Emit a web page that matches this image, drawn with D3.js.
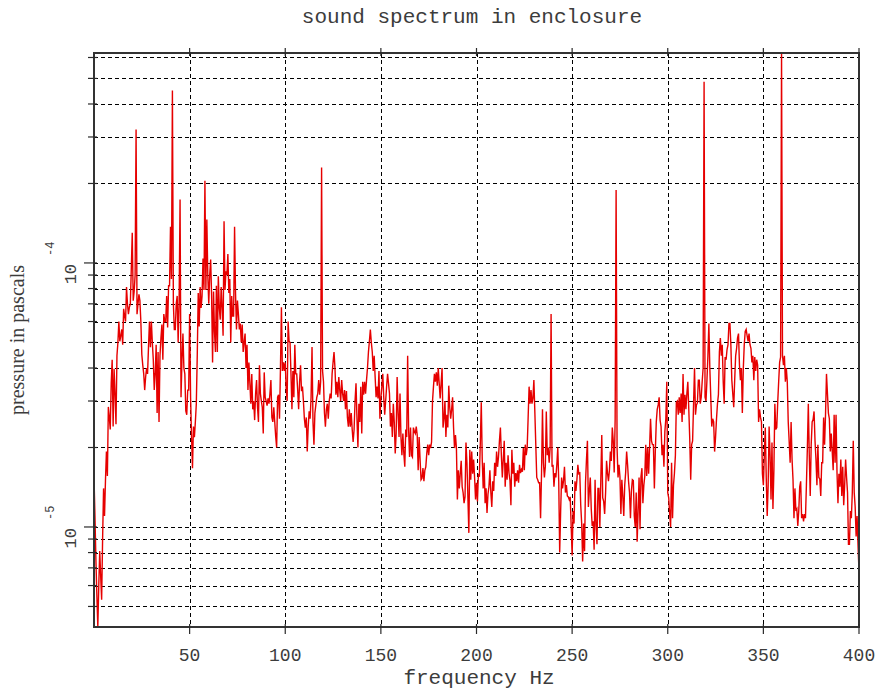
<!DOCTYPE html>
<html>
<head>
<meta charset="utf-8">
<script src="https://cdn.jsdelivr.net/npm/d3@7/dist/d3.min.js"></script>
<style>
  body { margin: 0; background: #fff; }
  svg { display: block; }
</style>
</head>
<body>
<svg id="chart" width="881" height="691"></svg>
<script>
// Labels
const titleText = "sound spectrum in enclosure";
const xLabelText = "frequency Hz";
const yLabelText = "pressure in pascals";

// Axis ticks
const xTickValues = [50, 100, 150, 200, 250, 300, 350, 400];
const yLabelPowers = [-5, -4];

// Spectrum: one value every 0.5 Hz from 0 to 400 Hz, in units of 1e-5 Pa
const freqStepHz = 0.5;
const pressureUnit = 1e-5;
const pressure = [
  /*   0 */ 1.55, 1.1, 0.75, 0.55, 0.418, 0.6, 0.81, 0.65, 0.53, 0.9, 1.4, 1.1, 1.5, 1.93, 1.56, 2.85, 2.6, 2.34, 3.5, 4.3,
  /*  10 */ 2.4, 3.97, 3.2, 2.45, 4.45, 5.0, 6.0, 5.05, 5.3, 5.6, 4.9, 6.7, 6.3, 6.0, 8.1, 7.0, 6.4, 6.8, 7.0, 9.5,
  /*  20 */ 13, 7.2, 7.8, 9, 32, 6.4, 7.0, 7.6, 7.2, 6.0, 4.5, 4.1, 3.8, 3.3, 3.7, 4.0, 3.8, 4.8, 6.0, 4.8,
  /*  30 */ 6.0, 5.0, 4.3, 3.3, 3.8, 4.9, 2.7, 4.6, 2.5, 4.45, 5.2, 5.85, 4.3, 6.4, 6.0, 6.0, 7.5, 5.7, 8.2, 8.2,
  /*  40 */ 13.7, 8.7, 45, 7.0, 5.6, 5.6, 7.0, 7.5, 5.0, 7.0, 17.4, 3.1, 4.3, 5.4, 4.0, 3.8, 2.75, 2.66, 3.3, 3.3,
  /*  50 */ 6.4, 3.1, 2.2, 1.67, 2.4, 2.19, 2.5, 2.93, 4.5, 7.7, 5.75, 8.1, 6.75, 7.5, 10.4, 7.9, 20.5, 7.9, 14.6, 9.0,
  /*  60 */ 7.0, 9.0, 10.3, 7.5, 4.2, 7.8, 5.5, 4.6, 8.2, 4.6, 8.9, 6.8, 6.1, 8.1, 6.7, 5.3, 14.4, 7.9, 9.3, 9.0,
  /*  70 */ 10.8, 7.7, 8.7, 5.0, 7.5, 6.3, 6.3, 13.7, 7.7, 5.6, 7.2, 6.4, 5.6, 5.9, 5.0, 5.85, 4.6, 5.0, 5.4, 4.0,
  /*  80 */ 4.9, 3.3, 4.2, 3.5, 2.93, 3.8, 2.79, 3.0, 2.54, 3.2, 3.6, 2.84, 2.5, 4.1, 3.2, 3.0, 2.84, 2.26, 3.85, 3.1,
  /*  90 */ 3.0, 2.88, 3.07, 2.93, 3.2, 3.6, 2.6, 2.5, 2.84, 2.5, 2.2, 2.0, 3.1, 3.17, 2.57, 4.0, 6.8, 3.9, 4.2, 3.9,
  /* 100 */ 4.2, 3.3, 3.0, 6.0, 5.05, 5.0, 3.8, 2.79, 3.9, 3.1, 4.9, 3.8, 3.8, 3.3, 2.79, 3.55, 4.1, 3.27, 3.4, 3.0,
  /* 110 */ 2.57, 2.38, 2.6, 1.93, 2.4, 2.74, 2.57, 3.1, 4.8, 2.5, 2.05, 2.7, 2.9, 3.1, 3.2, 3.6, 3.17, 3.55, 23, 3.9,
  /* 120 */ 3.55, 2.7, 2.4, 2.79, 2.93, 2.57, 3.0, 3.2, 3.07, 3.8, 4.2, 4.6, 4.0, 3.17, 3.55, 3.1, 3.7, 3.3, 3.0, 3.6,
  /* 130 */ 3.2, 3.0, 3.3, 2.79, 3.27, 2.6, 2.4, 2.79, 2.4, 2.7, 2.34, 2.1, 2.34, 3.0, 3.5, 2.57, 2.0, 2.93, 2.5, 3.4,
  /* 140 */ 2.26, 3.55, 3.17, 3.55, 3.2, 3.6, 4.0, 4.6, 5.05, 5.6, 5.0, 4.6, 3.9, 4.45, 3.7, 3.1, 3.4, 3.07, 3.9, 2.57,
  /* 150 */ 3.07, 3.4, 3.8, 3.1, 2.66, 3.0, 3.4, 3.8, 3.5, 3.2, 2.4, 2.7, 2.19, 2.93, 2.5, 1.9, 2.26, 3.7, 2.7, 2.19,
  /* 160 */ 3.2, 2.19, 1.87, 2.26, 1.9, 1.69, 2.34, 2.19, 4.45, 2.34, 1.84, 2.38, 1.87, 1.84, 2.38, 2.3, 2.26, 2.4, 2.23, 1.64,
  /* 170 */ 2.19, 1.8, 1.51, 1.53, 1.67, 1.49, 1.64, 1.69, 1.9, 2.05, 1.87, 2.05, 1.99, 2.1, 3.0, 3.4, 3.8, 3.55, 3.85, 3.43,
  /* 180 */ 4.0, 3.5, 3.07, 3.5, 4.0, 2.38, 2.57, 3.0, 2.19, 2.66, 2.38, 3.43, 2.84, 2.57, 2.79, 3.1, 2.38, 1.99, 2.23, 1.99,
  /* 190 */ 1.27, 1.64, 1.4, 1.59, 1.78, 1.42, 1.35, 1.23, 1.3, 2.09, 1.75, 1.3, 0.95, 1.96, 1.51, 1.93, 1.59, 1.8, 1.54, 1.27,
  /* 200 */ 1.47, 1.25, 1.59, 1.55, 2.09, 2.97, 1.8, 1.4, 1.75, 1.23, 1.4, 1.13, 1.33, 1.42, 1.64, 1.35, 1.19, 1.49, 1.37, 1.75,
  /* 210 */ 1.56, 1.93, 1.69, 1.84, 2.12, 2.38, 1.87, 1.54, 1.8, 2.12, 1.42, 1.75, 1.51, 1.87, 1.6, 1.5, 1.21, 1.96, 1.59, 1.75,
  /* 220 */ 1.42, 1.6, 1.49, 1.64, 1.47, 1.72, 1.6, 1.65, 1.62, 1.99, 1.64, 2.05, 1.87, 2.0, 2.6, 3.4, 2.93, 3.3, 2.93, 3.07,
  /* 230 */ 3.6, 2.74, 2.05, 1.54, 1.51, 1.47, 1.47, 1.08, 1.59, 2.79, 1.75, 1.54, 1.7, 2.74, 1.87, 2.0, 1.75, 1.99, 6.4, 1.69,
  /* 240 */ 1.72, 1.42, 1.6, 1.54, 1.72, 2.0, 1.49, 0.8, 1.15, 1.54, 1.4, 1.5, 1.69, 1.35, 1.44, 1.31, 1.3, 1.27, 1.3, 1.01,
  /* 250 */ 0.78, 1.15, 1.03, 1.49, 1.37, 1.51, 1.72, 1.59, 1.6, 1.21, 1.03, 0.74, 1.03, 0.81, 1.47, 1.8, 2.12, 1.19, 1.37, 1.54,
  /* 260 */ 1.17, 1.01, 1.05, 0.82, 1.51, 1.01, 0.86, 1.4, 1.4, 1.0, 1.51, 2.23, 1.29, 1.25, 1.12, 1.35, 1.78, 1.6, 1.49, 1.64,
  /* 270 */ 1.93, 1.78, 2.38, 2.12, 1.61, 2.57, 18.9, 1.99, 1.54, 1.72, 1.55, 1.12, 1.51, 1.31, 1.1, 1.44, 1.61, 1.93, 1.72, 1.49,
  /* 280 */ 1.35, 1.08, 1.37, 1.51, 1.5, 1.1, 1.0, 1.35, 0.88, 1.15, 1.54, 0.98, 1.55, 1.67, 1.23, 1.44, 1.56, 2.05, 1.56, 2.0,
  /* 290 */ 1.59, 1.99, 2.57, 2.12, 2.05, 2.05, 1.4, 1.93, 2.5, 2.79, 2.9, 3.1, 2.54, 2.4, 1.87, 2.05, 1.69, 2.3, 2.57, 3.55,
  /* 300 */ 1.35, 1.29, 1.12, 1.0, 1.75, 1.08, 1.44, 1.6, 1.87, 2.97, 3.0, 2.66, 3.1, 2.7, 3.2, 2.5, 3.8, 2.66, 3.17, 2.79,
  /* 310 */ 3.2, 3.55, 2.79, 2.16, 1.51, 2.05, 2.12, 2.93, 4.0, 2.66, 2.9, 2.95, 3.6, 3.6, 2.93, 3.1, 3.55, 4.0, 48.6, 3.1,
  /* 320 */ 3.0, 3.6, 4.45, 5.9, 4.0, 3.1, 2.4, 2.57, 2.5, 1.93, 2.19, 2.57, 2.93, 3.17, 4.6, 5.2, 4.45, 4.9, 3.55, 2.93,
  /* 330 */ 4.4, 4.3, 4.7, 4.9, 5.9, 5.9, 4.9, 3.6, 3.2, 2.84, 3.6, 4.45, 4.75, 5.2, 5.4, 4.1, 3.6, 4.0, 2.7, 3.97,
  /* 340 */ 4.9, 5.5, 5.6, 5.3, 5.05, 5.4, 4.9, 4.75, 4.2, 4.45, 3.6, 4.4, 3.9, 4.3, 4.1, 2.5, 2.79, 2.6, 2.5, 1.59,
  /* 350 */ 1.44, 1.87, 2.38, 1.54, 1.1, 1.44, 2.4, 1.87, 1.27, 2.09, 1.17, 1.64, 2.93, 2.34, 2.38, 2.97, 3.55, 4.2, 4.4, 62.4,
  /* 360 */ 4.45, 4.1, 4.45, 3.55, 4.0, 3.55, 2.5, 2.1, 1.75, 2.5, 1.8, 1.51, 1.08, 1.4, 1.15, 1.17, 1.01, 1.15, 1.42, 1.49,
  /* 370 */ 1.08, 1.12, 1.05, 1.12, 1.08, 1.44, 1.99, 2.93, 1.87, 1.31, 2.05, 2.5, 2.55, 2.74, 2.12, 1.8, 1.44, 2.05, 1.54, 1.52,
  /* 380 */ 1.31, 1.75, 1.75, 2.6, 2.05, 2.66, 3.8, 3.2, 2.7, 2.57, 1.93, 2.26, 1.93, 1.64, 2.66, 1.75, 2.66, 1.61, 1.23, 1.59,
  /* 390 */ 1.42, 1.8, 1.31, 1.69, 1.21, 1.44, 1.8, 1.54, 1.35, 0.86, 0.86, 1.15, 1.08, 1.35, 2.12, 1.35, 1.19, 0.92, 1.1, 0.85,
  /* 400 */ 0.68
];

const data = pressure.map((v, i) => ({ f: i * freqStepHz, p: v * pressureUnit }));

// Plot frame
const plot = { left: 94, right: 859, top: 53, bottom: 627 };
const svg = d3.select("#chart");
const mono = "'Liberation Mono', 'DejaVu Sans Mono', monospace";
const serif = "'Liberation Serif', 'DejaVu Serif', serif";
const ink = "#3c3c3c";

const x = d3.scaleLinear().domain([0, 400]).range([plot.left, plot.right]);
const y = d3.scaleLog().domain(d3.extent(data, d => d.p)).range([plot.bottom, plot.top]);

// Dashed grid: every log subdivision and every x tick
const yGridValues = y.ticks();
const grid = svg.append("g")
  .attr("stroke", "#000")
  .attr("stroke-width", 1)
  .attr("stroke-dasharray", "4,3")
  .attr("shape-rendering", "crispEdges");
grid.selectAll("line.h").data(yGridValues).join("line")
  .attr("class", "h")
  .attr("x1", plot.left).attr("x2", plot.right)
  .attr("y1", d => Math.round(y(d)) + 0.5).attr("y2", d => Math.round(y(d)) + 0.5);
grid.selectAll("line.v").data(xTickValues.filter(v => v < 400)).join("line")
  .attr("class", "v")
  .attr("y1", plot.top).attr("y2", plot.bottom)
  .attr("x1", d => Math.round(x(d)) + 0.5).attr("x2", d => Math.round(x(d)) + 0.5);

// Spectrum line
svg.append("defs").append("clipPath").attr("id", "plot-clip")
  .append("rect")
  .attr("x", plot.left).attr("y", plot.top - 1)
  .attr("width", plot.right - plot.left).attr("height", plot.bottom - plot.top + 2);

const line = d3.line().x(d => x(d.f)).y(d => y(d.p));
svg.append("path")
  .datum(data)
  .attr("clip-path", "url(#plot-clip)")
  .attr("fill", "none")
  .attr("stroke", "#e60000")
  .attr("stroke-width", 1.4)
  .attr("stroke-linejoin", "miter")
  .attr("d", line);

// Frame
svg.append("rect")
  .attr("x", plot.left).attr("y", plot.top)
  .attr("width", plot.right - plot.left).attr("height", plot.bottom - plot.top)
  .attr("fill", "none").attr("stroke", "#333").attr("stroke-width", 2);

// Tick marks
const ticks = svg.append("g").attr("stroke", "#2a2a2a").attr("stroke-width", 1.2);
ticks.selectAll("line.xb").data(xTickValues).join("line")
  .attr("x1", d => x(d)).attr("x2", d => x(d))
  .attr("y1", plot.bottom - 3).attr("y2", plot.bottom + 7);
ticks.selectAll("line.xt").data(xTickValues).join("line")
  .attr("x1", d => x(d)).attr("x2", d => x(d))
  .attr("y1", plot.top + 3).attr("y2", plot.top - 5);
const majorY = yLabelPowers.map(p => Math.pow(10, p));
ticks.selectAll("line.yl").data(yGridValues).join("line")
  .attr("x1", d => plot.left - (majorY.some(m => Math.abs(m - d) / m < 1e-9) ? 10 : 6))
  .attr("x2", plot.left + 3)
  .attr("y1", d => y(d)).attr("y2", d => y(d));

// X tick labels
svg.append("g").selectAll("text").data(xTickValues).join("text")
  .attr("x", d => x(d)).attr("y", 661)
  .attr("text-anchor", "middle")
  .attr("font-family", mono).attr("font-size", 18)
  .attr("fill", ink)
  .text(d => d);

// Y tick labels: 10 with a raised exponent, turned to read upward
const yLab = svg.append("g").selectAll("g").data(yLabelPowers).join("g")
  .attr("transform", p => `translate(76,${y(Math.pow(10, p))}) rotate(-90)`);
const yText = yLab.append("text")
  .attr("text-anchor", "middle")
  .attr("font-family", mono).attr("fill", ink);
yText.append("tspan").attr("font-size", 17).text("10");
yText.append("tspan").attr("font-size", 12).attr("dx", 8).attr("dy", -22).text(p => String(p));

// Title and axis titles
svg.append("text")
  .attr("x", 472).attr("y", 23)
  .attr("text-anchor", "middle")
  .attr("font-family", mono).attr("font-size", 21)
  .attr("fill", ink)
  .text(titleText);

svg.append("text")
  .attr("x", 479).attr("y", 684)
  .attr("text-anchor", "middle")
  .attr("font-family", mono).attr("font-size", 21)
  .attr("fill", ink)
  .text(xLabelText);

svg.append("text")
  .attr("transform", `translate(24,${(plot.top + plot.bottom) / 2}) rotate(-90)`)
  .attr("text-anchor", "middle")
  .attr("font-family", serif).attr("font-size", 20)
  .attr("fill", ink)
  .text(yLabelText);
</script>
</body>
</html>
